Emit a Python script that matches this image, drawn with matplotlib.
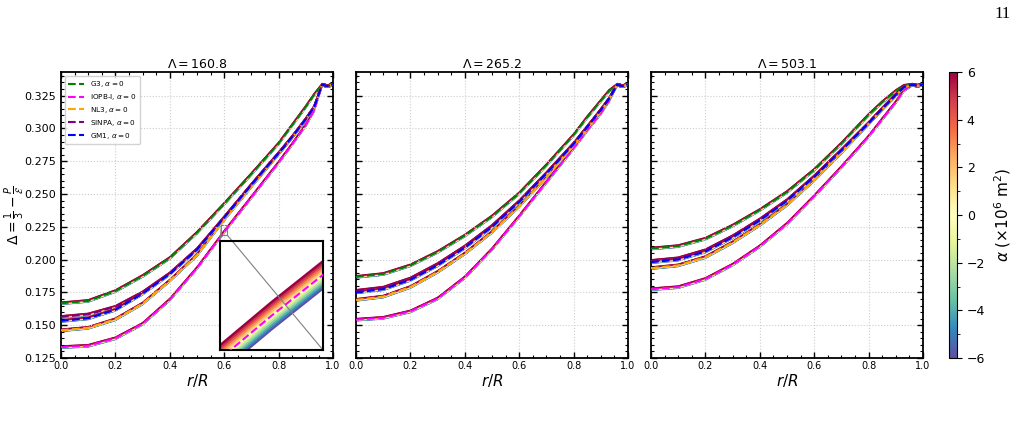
import numpy as np
import matplotlib.pyplot as plt
from matplotlib import colors
from matplotlib.ticker import MultipleLocator, AutoMinorLocator
from mpl_toolkits.axes_grid1.inset_locator import mark_inset

# radial grid (r/R)
r = [0.0, 0.1, 0.2, 0.3, 0.4, 0.5, 0.6, 0.7, 0.8, 0.85, 0.9, 0.93, 0.96, 0.98, 1.0]

lambdas = ['160.8', '265.2', '503.1']
models = ['G3', 'IOPB-I', 'NL3', 'SINPA', 'GM1']
model_colors = ['green', 'magenta', 'orange', 'purple', 'blue']

# Lambda = 160.8
g3_a = [.1667, .1685, .1760, .1875, .2012, .2205, .2425, .2652, .2885, .3025, .3165, .3255, .3333, .3322, .3335]
iopb_a = [.1333, .1343, .1400, .1510, .1695, .1935, .2212, .2475, .2740, .2880, .3025, .3135, .3333, .3322, .3335]
nl3_a = [.1461, .1480, .1545, .1665, .1840, .2035, .2305, .2558, .2805, .2932, .3065, .3158, .3333, .3322, .3335]
sinpa_a = [.1563, .1582, .1640, .1750, .1895, .2080, .2323, .2572, .2812, .2937, .3072, .3162, .3333, .3322, .3335]
gm1_a = [.1532, .1552, .1617, .1740, .1890, .2075, .2320, .2570, .2810, .2935, .3070, .3160, .3333, .3322, .3335]

# Lambda = 265.2
g3_b = [.1868, .1890, .1956, .2058, .2183, .2329, .2505, .2720, .2950, .3085, .3210, .3285, .3333, .3322, .3335]
iopb_b = [.1542, .1556, .1605, .1703, .1864, .2079, .2330, .2590, .2849, .2985, .3115, .3210, .3333, .3322, .3335]
nl3_b = [.1693, .1718, .1791, .1906, .2046, .2210, .2406, .2630, .2870, .3000, .3130, .3220, .3333, .3322, .3335]
sinpa_b = [.1762, .1786, .1856, .1966, .2100, .2257, .2445, .2660, .2885, .3012, .3142, .3227, .3333, .3322, .3335]
gm1_b = [.1750, .1774, .1845, .1956, .2090, .2249, .2439, .2655, .2880, .3010, .3140, .3225, .3333, .3322, .3335]

# Lambda = 503.1
g3_c = [.2084, .2103, .2159, .2259, .2378, .2515, .2684, .2885, .3103, .3200, .3285, .3325, .3333, .3325, .3335]
iopb_c = [.1774, .1790, .1852, .1961, .2101, .2273, .2483, .2705, .2938, .3070, .3200, .3290, .3333, .3325, .3335]
nl3_c = [.1935, .1956, .2019, .2131, .2264, .2417, .2606, .2816, .3035, .3145, .3250, .3312, .3333, .3325, .3335]
sinpa_c = [.1990, .2010, .2071, .2178, .2306, .2453, .2635, .2836, .3042, .3152, .3257, .3316, .3333, .3325, .3335]
gm1_c = [.1980, .2000, .2061, .2169, .2298, .2447, .2629, .2832, .3039, .3150, .3255, .3315, .3333, .3325, .3335]

# alpha (x10^6 m^2) and the shift in Delta
alpha_vals = [-6, -5, -4, -3, -2, -1, 0, 1, 2, 3, 4, 5, 6]
alpha_shift = [-0.00087, -0.00072, -0.00058, -0.00043, -0.00029, -0.00014, 0.0,
               0.00014, 0.00029, 0.00043, 0.00058, 0.00072, 0.00087]

panels = [
    [g3_a, iopb_a, nl3_a, sinpa_a, gm1_a],
    [g3_b, iopb_b, nl3_b, sinpa_b, gm1_b],
    [g3_c, iopb_c, nl3_c, sinpa_c, gm1_c],
]

cmap = plt.get_cmap('Spectral_r')
norm = colors.Normalize(vmin=-6, vmax=6)


def draw_curves(ax, curves, lw_band):
    for vals, col, name in zip(curves, model_colors, models):
        base = np.array(vals)
        for a, s in zip(alpha_vals, alpha_shift):
            ax.plot(r, base + s, color=cmap(norm(a)), lw=lw_band, zorder=1)
        ax.plot(r, base, '--', color=col, lw=1.5, zorder=3,
                label=name + r', $\alpha = 0$')


fig = plt.figure(figsize=(10.21, 4.24), dpi=100)
lefts = [61, 356, 651]
axes = []
for i, lft in enumerate(lefts):
    ax = fig.add_axes([lft / 1021, 1 - 358 / 424, 272 / 1021, 286 / 424])
    draw_curves(ax, panels[i], 1.0)
    ax.set_xlim(0, 1)
    ax.set_ylim(0.125, 0.343)
    ax.xaxis.set_major_locator(MultipleLocator(0.2))
    ax.xaxis.set_minor_locator(AutoMinorLocator(4))
    ax.yaxis.set_major_locator(MultipleLocator(0.025))
    ax.yaxis.set_minor_locator(AutoMinorLocator(5))
    ax.tick_params(which='both', direction='in', top=True, right=True)
    ax.tick_params(which='major', length=4, width=1)
    ax.tick_params(which='minor', length=2, width=0.8)
    ax.tick_params(axis='x', labelsize=7, pad=2)
    ax.tick_params(axis='y', labelsize=8)
    ax.grid(True, ls=':', color='0.8', lw=0.8)
    for sp in ax.spines.values():
        sp.set_linewidth(1.3)
    ax.set_title(r'$\Lambda = $' + lambdas[i], fontsize=9, pad=3)
    ax.set_xlabel(r'$r/R$', fontsize=11, labelpad=1)
    if i > 0:
        ax.set_yticklabels([])
    axes.append(ax)

axes[0].set_ylabel(r'$\Delta = \frac{1}{3} - \frac{P}{\mathcal{E}}$', fontsize=10)
axes[0].yaxis.set_label_coords(-0.125, 0.5)
axes[0].legend(loc='upper left', fontsize=5.2, handlelength=2.2, borderpad=0.5,
               labelspacing=0.4, framealpha=0.85)

# zoomed inset on panel 1
axins = fig.add_axes([220 / 1021, 1 - 350 / 424, 103 / 1021, 109 / 424])
draw_curves(axins, panels[0], 1.8)
axins.set_xlim(0.59, 0.61)
axins.set_ylim(0.219, 0.226)
axins.set_xticks([])
axins.set_yticks([])
for sp in axins.spines.values():
    sp.set_linewidth(1.5)
mark_inset(axes[0], axins, loc1=2, loc2=4, fc='none', ec='0.5', lw=0.8)

# colorbar
cax = fig.add_axes([949 / 1021, 1 - 358 / 424, 8 / 1021, 286 / 424])
sm = plt.cm.ScalarMappable(cmap=cmap, norm=norm)
cb = fig.colorbar(sm, cax=cax)
cb.set_ticks([-6, -4, -2, 0, 2, 4, 6])
cb.ax.yaxis.set_minor_locator(MultipleLocator(1))
cb.ax.tick_params(labelsize=9)
cb.set_label(r'$\alpha$ ($\times 10^6$ m$^2$)', fontsize=11, labelpad=5)
cb.outline.set_linewidth(0.8)

fig.text(0.99, 0.985, '11', family='Liberation Serif', fontsize=12, ha='right', va='top')

fig.savefig('out.png', dpi=100)
